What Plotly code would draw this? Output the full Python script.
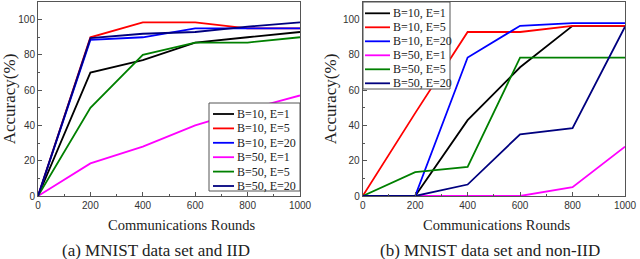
import plotly.graph_objects as go

rounds = [0, 200, 400, 600, 800, 1000]
names = ["B=10, E=1", "B=10, E=5", "B=10, E=20", "B=50, E=1", "B=50, E=5", "B=50, E=20"]
colors = ["#000000", "#ff0000", "#0000ff", "#ff00ff", "#008000", "#00007f"]

iid_b10_e1 = [0, 70, 77, 87, 90, 93]
iid_b10_e5 = [0, 90, 98.5, 98.5, 95, 95]
iid_b10_e20 = [0, 88.5, 90, 95, 95, 95]
iid_b50_e1 = [0, 18.5, 28, 40, 49, 57]
iid_b50_e5 = [0, 50, 80, 87, 87, 90]
iid_b50_e20 = [0, 89.5, 92, 93, 96, 98.5]

non_b10_e1 = [0, 0, 43, 73, 96.5, 96.5]
non_b10_e5 = [0, 47, 93, 93, 96.5, 96.5]
non_b10_e20 = [0, 0, 78.5, 96.5, 98, 98]
non_b50_e1 = [0, 0, 0, 0, 5, 28]
non_b50_e5 = [0, 13.5, 16.5, 78.5, 78.5, 78.5]
non_b50_e20 = [0, 0, 6.5, 35, 38.5, 96]

iid = [iid_b10_e1, iid_b10_e5, iid_b10_e20, iid_b50_e1, iid_b50_e5, iid_b50_e20]
non = [non_b10_e1, non_b10_e5, non_b10_e20, non_b50_e1, non_b50_e5, non_b50_e20]

x_ticks = [0, 200, 400, 600, 800, 1000]
y_ticks = [0, 20, 40, 60, 80, 100]

x_title = "Communications Rounds"
y_title = "Accuracy(%)"
captions = ["(a) MNIST data set and IID", "(b) MNIST data set and non-IID"]

W, H = 640, 259
SERIF = "Liberation Serif"
SANS = "Liberation Sans"
TXT = "#222222"
AX = "#555555"

fig = go.Figure()
for i, ys in enumerate(iid):
    fig.add_trace(go.Scatter(x=rounds, y=ys, mode="lines", name=names[i],
                             line=dict(color=colors[i], width=1.8),
                             xaxis="x", yaxis="y", showlegend=False))
for i, ys in enumerate(non):
    fig.add_trace(go.Scatter(x=rounds, y=ys, mode="lines", name=names[i],
                             line=dict(color=colors[i], width=1.8),
                             xaxis="x2", yaxis="y2", showlegend=False))

def px(x):
    return x / W

def py(y):
    return 1 - y / H

ydom = [py(196), py(2)]
axis_common = dict(
    showline=True, linecolor=AX, linewidth=1, mirror=True, automargin=False,
    ticks="inside", ticklen=4, tickcolor=AX, showgrid=False, zeroline=False,
    tickfont=dict(family=SANS, size=10, color="#333333"),
)
xcommon = dict(axis_common, range=[0, 1000], tickvals=x_ticks,
               minor=dict(ticks="inside", ticklen=2, dtick=100, tick0=0, tickcolor=AX))
ycommon = dict(axis_common, range=[0, 110], tickvals=y_ticks,
               minor=dict(ticks="inside", ticklen=2, dtick=10, tick0=0, tickcolor=AX),
               title=dict(text=y_title, font=dict(family=SERIF, size=17, color=TXT), standoff=2))

fig.update_layout(
    width=W, height=H,
    margin=dict(l=0, r=0, t=0, b=0, autoexpand=False),
    paper_bgcolor="white", plot_bgcolor="white",
    xaxis=dict(xcommon, domain=[px(38), px(300)], anchor="y"),
    yaxis=dict(ycommon, domain=ydom, anchor="x"),
    xaxis2=dict(xcommon, domain=[px(362.7), px(625)], anchor="y2"),
    yaxis2=dict(ycommon, domain=ydom, anchor="x2"),
)

shapes = []
annotations = []

def add_legend(x0, x1, y0, y1, row0, step, lx0, lx1, tx):
    shapes.append(dict(type="rect", xref="paper", yref="paper",
                       x0=px(x0), x1=px(x1), y0=py(y1), y1=py(y0),
                       line=dict(color=AX, width=1), fillcolor="white", layer="above"))
    for i, nm in enumerate(names):
        yy = row0 + i * step
        shapes.append(dict(type="line", xref="paper", yref="paper",
                           x0=px(lx0), x1=px(lx1), y0=py(yy), y1=py(yy),
                           line=dict(color=colors[i], width=1.8), layer="above"))
        annotations.append(dict(text=nm, xref="paper", yref="paper", x=px(tx), y=py(yy),
                                xanchor="left", yanchor="middle", showarrow=False,
                                font=dict(family=SERIF, size=12, color=TXT)))

add_legend(209, 300, 103, 191, 114, 14.4, 213, 234, 235)
add_legend(363, 450, 2, 89, 13.3, 14.0, 365, 390, 391)

for cx in (181.5, 496):
    annotations.append(dict(text=x_title, xref="paper", yref="paper",
                            x=px(cx), y=py(225), xanchor="center", yanchor="middle", showarrow=False,
                            font=dict(family=SERIF, size=14.5, color=TXT)))

for cap, cx in zip(captions, (156, 490)):
    annotations.append(dict(text=cap, xref="paper", yref="paper",
                            x=px(cx), y=py(250), xanchor="center", yanchor="middle", showarrow=False,
                            font=dict(family=SERIF, size=17, color=TXT)))

fig.update_layout(shapes=shapes, annotations=annotations)
fig.write_html("out.html", config={"displayModeBar": False},
               post_script="document.body.style.margin='0';document.body.style.padding='0';document.documentElement.style.overflow='hidden';")
